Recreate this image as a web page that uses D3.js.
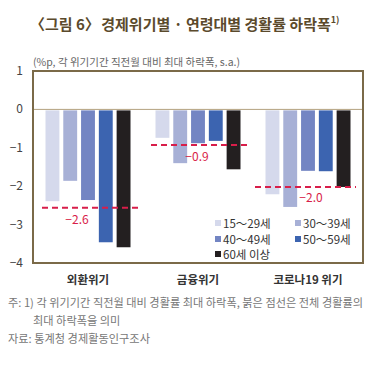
<!DOCTYPE html>
<html><head><meta charset="utf-8">
<script src="https://cdn.jsdelivr.net/npm/d3@7/dist/d3.min.js"></script>
<style>body{margin:0;background:#fff;} text{font-family:"Noto Sans CJK KR","Noto Sans",sans-serif;}</style>
</head><body>
<svg id="c" width="390" height="367"></svg>
<script>
const categories = ["외환위기", "금융위기", "코로나19 위기"];
const series = ["15～29세", "30～39세", "40～49세", "50～59세", "60세 이상"];
const values = [
  [-2.39, -1.86, -2.36, -3.46, -3.59],
  [-0.74, -1.40, -0.88, -0.82, -1.56],
  [-2.21, -2.54, -1.60, -1.61, -2.02]
];
const totals = [-2.56, -0.93, -2.02];
const totalLabels = ["−2.6", "−0.9", "−2.0"];
const yTicks = [1, 0, -1, -2, -3, -4];
const colors = ["#d5d9ec", "#a7b0d6", "#7385c3", "#3c64b0", "#231f20"];

const svg = d3.select("#c");
const L = 33, R = 363, T = 71, B = 263;
const x = d3.scaleBand().domain(categories).range([L, R]);
const xs = d3.scaleBand().domain(series).range([0, 85]).paddingInner(0.22);
const y = d3.scaleLinear().domain([-4, 1]).range([B, T]);

// title
const title = svg.append("text").attr("x", 34).attr("y", 30).attr("font-size", 15).attr("font-weight", 700).attr("fill", "#5b4a2c");
title.append("tspan").text("〈그림 6〉").attr("dx", -4);
title.append("tspan").attr("dx", -2).text(" 경제위기별 · 연령대별 경활률 하락폭");
title.append("tspan").attr("font-size", 9).attr("dy", -7).text("1)");

svg.append("text").attr("x", 33).attr("y", 66).attr("font-size", 10.5).attr("fill", "#666").text("(%p, 각 위기기간 직전월 대비 최대 하락폭, s.a.)");

// y ticks
svg.append("g").selectAll("text").data(yTicks).join("text")
  .attr("x", 23).attr("y", d => y(d) + 4).attr("text-anchor", "end")
  .attr("font-size", 12).attr("fill", "#444")
  .text(d => d < 0 ? "−" + Math.abs(d) : d);

// zero line
svg.append("line").attr("x1", L).attr("x2", R).attr("y1", y(0)).attr("y2", y(0)).attr("stroke", "#b3a27f").attr("stroke-width", 1);

// bars
const g = svg.append("g");
categories.forEach((c, i) => {
  const off = x(c) + (x.bandwidth() - 85) / 2;
  g.selectAll(null).data(values[i]).join("rect")
    .attr("x", (d, j) => off + xs(series[j]))
    .attr("width", xs.bandwidth())
    .attr("y", y(0) + 1)
    .attr("height", d => y(d) - y(0) - 1)
    .attr("fill", (d, j) => colors[j]);
});

// dashed totals
const dashExt = [[42, 138], [151, 247], [255, 356]];
totals.forEach((t, i) => {
  svg.append("line").attr("x1", dashExt[i][0]).attr("x2", dashExt[i][1])
    .attr("y1", y(t)).attr("y2", y(t))
    .attr("stroke", "#d81e4a").attr("stroke-width", 2).attr("stroke-dasharray", "6,4");
});
const labelPos = [[77, 224], [197, 161], [311, 202]];
totals.forEach((t, i) => {
  svg.append("text").attr("x", labelPos[i][0]).attr("y", labelPos[i][1]).attr("text-anchor", "middle")
    .attr("font-size", 12).attr("fill", "#d81e4a").text(totalLabels[i]);
});

// box
svg.append("rect").attr("x", L).attr("y", T).attr("width", R - L).attr("height", B - T)
  .attr("fill", "none").attr("stroke", "#7b6a48").attr("stroke-width", 2);

// legend
const legPos = [[215, 224], [295, 224], [215, 240], [295, 240], [215, 255]];
series.forEach((s, j) => {
  svg.append("rect").attr("x", legPos[j][0]).attr("y", legPos[j][1] - 4).attr("width", 6).attr("height", 6).attr("fill", colors[j]);
  svg.append("text").attr("x", legPos[j][0] + 8).attr("y", legPos[j][1] + 4).attr("font-size", 11.5).attr("fill", "#333").text(s);
});

// x labels
svg.append("g").selectAll("text").data(categories).join("text")
  .attr("x", d => x(d) + x.bandwidth() / 2).attr("y", 284).attr("text-anchor", "middle")
  .attr("font-size", 11.5).attr("font-weight", 700).attr("fill", "#333").text(d => d);

// notes
svg.append("text").attr("x", 8).attr("y", 307).attr("font-size", 11.2).attr("fill", "#777").text("주: 1) 각 위기기간 직전월 대비 경활률 최대 하락폭, 붉은 점선은 전체 경활률의");
svg.append("text").attr("x", 33).attr("y", 325).attr("font-size", 11.2).attr("fill", "#777").text("최대 하락폭을 의미");
svg.append("text").attr("x", 8).attr("y", 343).attr("font-size", 11.2).attr("fill", "#777").text("자료: 통계청 경제활동인구조사");
</script>
</body></html>
